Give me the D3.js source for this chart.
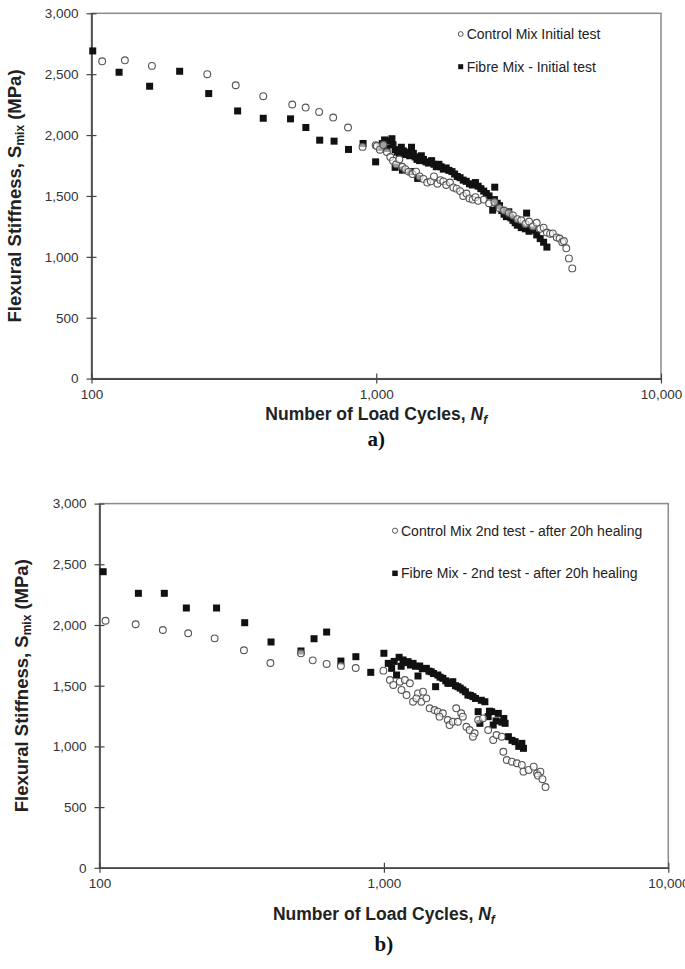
<!DOCTYPE html>
<html><head><meta charset="utf-8">
<script src="https://cdn.jsdelivr.net/npm/d3@7"></script>
<style>body{margin:0;background:#fff}</style>
</head><body>
<svg id="c" width="685" height="969"></svg>
<script>
// ---------- data ----------
const xTicks = [100, 1000, 10000];
const yTicks = [0, 500, 1000, 1500, 2000, 2500, 3000];
const panelLabels = ["a)", "b)"];
const seriesNamesA = ["Control Mix Initial test", "Fibre Mix - Initial test"];
const seriesNamesB = ["Control Mix 2nd test - after 20h healing", "Fibre Mix - 2nd test - after 20h healing"];

// [N cycles, stiffness MPa]
const controlInitial = [
 [109,2606],[131,2614],[163,2568],[255,2500],[321,2409],[401,2319],[507,2251],[565,2226],[630,2190],[706,2144],[796,2062],[895,1903],[995,1917],
 [1005,1910],[1030,1880],[1060,1920],[1090,1860],[1120,1820],[1145,1790],[1175,1760],[1205,1800],[1235,1740],[1265,1720],[1300,1700],
 [1340,1680],[1380,1700],[1420,1660],[1465,1640],[1510,1610],[1555,1620],[1595,1660],[1640,1600],[1680,1630],[1720,1620],[1760,1590],
 [1815,1610],[1865,1570],[1915,1560],[1970,1540],[2020,1500],[2075,1520],[2125,1480],[2180,1470],[2230,1490],[2280,1460],[2385,1470],
 [2490,1440],[2600,1450],[2710,1400],[2810,1380],[2920,1360],[3020,1340],[3130,1310],[3230,1300],[3340,1270],[3440,1290],[3550,1250],
 [3660,1280],[3765,1230],[3870,1240],[3975,1200],[4080,1190],[4170,1192],[4300,1160],[4405,1150],[4500,1120],[4560,1130],[4650,1070],
 [4750,987],[4880,905]
];
const fibreInitial = [
 [101,2691],[125,2516],[160,2401],[204,2524],[258,2341],[326,2198],[401,2138],[500,2133],[566,2062],[633,1958],[711,1950],[799,1882],[899,1931],[995,1780],
 [1030,1900],[1050,1930],[1070,1960],[1090,1890],[1110,1950],[1135,1970],[1145,1920],[1165,1880],[1185,1860],[1205,1850],[1225,1900],
 [1245,1870],[1265,1840],[1290,1860],[1310,1830],[1330,1900],[1350,1850],[1370,1820],[1390,1800],[1420,1790],[1440,1830],[1465,1800],
 [1495,1780],[1525,1770],[1565,1790],[1595,1760],[1625,1740],[1660,1760],[1690,1740],[1720,1720],[1760,1730],[1800,1710],[1845,1700],
 [1885,1680],[1925,1660],[1970,1650],[2020,1630],[2070,1620],[2125,1600],[2175,1590],[2230,1610],[2280,1580],[2330,1560],[2385,1540],
 [2435,1520],[2490,1500],[2607,1572],[2600,1470],[2564,1383],[2660,1440],[2710,1420],[2760,1380],[2810,1350],[2865,1330],[2920,1370],
 [2970,1320],[3020,1300],[3075,1280],[3130,1260],[3230,1240],[3373,1359],[3340,1230],[3440,1210],[3550,1220],[3660,1180],[3765,1150],
 [3870,1120],[3975,1080],[1236,1712],[1398,1644],[1165,1735],[1320,1700]
];
const control2nd = [
 [105,2035],[134,2006],[167,1959],[205,1932],[254,1890],[322,1792],[399,1687],[511,1767],[562,1709],[629,1679],[706,1662],[796,1646],[996,1624],
 [1050,1547],[1079,1506],[1138,1533],[1185,1547],[1234,1520],[1153,1465],[1201,1423],[1266,1368],[1318,1437],[1373,1451],[1301,1396],
 [1355,1368],[1410,1396],[1448,1314],[1507,1300],[1548,1286],[1612,1273],[1569,1245],[1678,1217],[1702,1176],[1747,1203],[1820,1203],
 [1796,1314],[1870,1273],[1895,1245],[1950,1162],[2002,1135],[2085,1108],[2056,1080],[2145,1217],[2232,1231],[2326,1135],[2423,1053],
 [2490,1094],[2596,1080],[2630,956],[2705,888],[2818,874],[2936,861],[3055,847],[3095,792],[3228,806],[3363,833],[3455,778],[3550,792],
 [3480,760],[3610,730],[3700,665]
];
const fibre2nd = [
 [103,2439],[137,2261],[169,2261],[202,2140],[258,2140],[324,2019],[401,1860],[511,1786],[568,1887],[629,1942],[706,1703],[797,1739],[899,1610],[1000,1767],
 [1036,1684],[1065,1643],[1108,1588],[1131,1734],[1168,1712],[1216,1698],[1266,1684],[1318,1580],[1336,1662],[1410,1643],[1467,1615],
 [1520,1492],[1548,1588],[1612,1561],[1678,1520],[1747,1533],[1820,1492],[1895,1465],[1974,1423],[2056,1410],[2145,1286],[2175,1190],
 [2265,1368],[2326,1245],[2392,1286],[2423,1176],[2525,1272],[2668,1190],[2740,1080],[2893,1039],[3055,1025],[3095,984],
 [1087,1700],[1150,1660],[1190,1690],[1240,1670],[1292,1660],[1365,1640],[1440,1620],[1495,1600],[1575,1570],[1650,1540],[1710,1520],
 [1785,1500],[1855,1480],[1935,1450],[2015,1420],[2100,1395],[2200,1380],[2350,1290],[2480,1210],[2600,1200],[2640,1230],[2820,1050],[2980,1000]
];

// ---------- layout ----------
const panels = [
  {l:91.5, r:661, t:13.3, b:378.6, yTitleX:15, label:panelLabels[0], names:seriesNamesA,
   control:controlInitial, fibre:fibreInitial, legX:460.7, legY:34, legDy:32.7, legR:2.4, legS:5,
   xTitleDy:41, labelDy:67},
  {l:99.5, r:668.3, t:503.6, b:867.8, yTitleX:22, label:panelLabels[1], names:seriesNamesB,
   control:control2nd, fibre:fibre2nd, legX:395, legY:530.7, legDy:42.6, legR:2.6, legS:5.5,
   xTitleDy:52, labelDy:83}
];

const svg = d3.select("#c");
const tickFont = "'Liberation Sans Narrow','Arial Narrow','Liberation Sans',Arial,sans-serif";
const titleFont = "'Liberation Sans',Arial,sans-serif";

panels.forEach(p => {
  const x = d3.scaleLog().domain([100, 10000]).range([p.l, p.r]);
  const y = d3.scaleLinear().domain([0, 3000]).range([p.b, p.t]);
  const g = svg.append("g");

  // frame
  g.append("rect").attr("x", p.l).attr("y", p.t).attr("width", p.r - p.l).attr("height", p.b - p.t)
    .attr("fill", "none").attr("stroke", "#8a8a8a").attr("stroke-width", 1.5);

  // y axis
  const ya = g.append("g").attr("transform", `translate(${p.l},0)`)
    .call(d3.axisLeft(y).tickValues(yTicks).tickFormat(d3.format(",")).tickSizeInner(5).tickSizeOuter(0).tickPadding(8));
  ya.select(".domain").attr("stroke", "#444").attr("stroke-width", 1.6);
  ya.selectAll(".tick line").attr("x1", 5).attr("x2", -5).attr("stroke", "#444").attr("stroke-width", 1.2);
  ya.selectAll(".tick text").attr("font-family", tickFont).attr("font-size", 13.5).attr("fill", "#333");

  // x axis
  const xa = g.append("g").attr("transform", `translate(0,${p.b})`)
    .call(d3.axisBottom(x).tickValues(xTicks).tickFormat(d3.format(",")).tickSizeInner(5).tickSizeOuter(0).tickPadding(6));
  xa.select(".domain").attr("stroke", "#444").attr("stroke-width", 1.6);
  xa.selectAll(".tick line").attr("y1", -5).attr("y2", 5).attr("stroke", "#444").attr("stroke-width", 1.2);
  xa.selectAll(".tick text").attr("font-family", tickFont).attr("font-size", 13.5).attr("fill", "#333");

  // y title
  const yt = g.append("text").attr("transform", `translate(${p.yTitleX},${(p.t + p.b) / 2}) rotate(-90)`)
    .attr("text-anchor", "middle").attr("dy", "0.35em")
    .attr("font-family", titleFont).attr("font-weight", "bold").attr("font-size", 18.5).attr("fill", "#222");
  yt.append("tspan").text("Flexural Stiffness, S");
  yt.append("tspan").text("mix").attr("font-size", 12).attr("dy", 3);
  yt.append("tspan").text(" (MPa)").attr("dy", -3);

  // x title
  const xt = g.append("text").attr("x", (p.l + p.r) / 2).attr("y", p.b + p.xTitleDy)
    .attr("text-anchor", "middle")
    .attr("font-family", tickFont).attr("font-weight", "bold").attr("font-size", 17.5).attr("fill", "#222");
  xt.append("tspan").text("Number of Load Cycles, ");
  xt.append("tspan").text("N").attr("font-style", "italic");
  xt.append("tspan").text("f").attr("font-style", "italic").attr("font-size", 12).attr("dy", 4);

  // panel label
  g.append("text").attr("x", (p.l + p.r) / 2).attr("y", p.b + p.labelDy).attr("text-anchor", "middle")
    .attr("font-family", "'Liberation Serif','Times New Roman',serif").attr("font-weight", "bold")
    .attr("font-size", 21).attr("fill", "#111").text(p.label);

  // fibre squares
  const s = 7;
  g.append("g").selectAll("rect").data(p.fibre).join("rect")
    .attr("x", d => x(d[0]) - s / 2).attr("y", d => y(d[1]) - s / 2)
    .attr("width", s).attr("height", s).attr("fill", "#111");
  // control circles
  g.append("g").selectAll("circle").data(p.control).join("circle")
    .attr("cx", d => x(d[0])).attr("cy", d => y(d[1])).attr("r", 3.4)
    .attr("fill", "#fff").attr("fill-opacity", 0.6).attr("stroke", "#555").attr("stroke-width", 1.1);

  // legend
  const lg = g.append("g");
  lg.append("circle").attr("cx", p.legX).attr("cy", p.legY).attr("r", p.legR)
    .attr("fill", "#fff").attr("stroke", "#555").attr("stroke-width", 1);
  lg.append("rect").attr("x", p.legX - p.legS / 2).attr("y", p.legY + p.legDy - p.legS / 2)
    .attr("width", p.legS).attr("height", p.legS).attr("fill", "#111");
  p.names.forEach((n, i) => {
    lg.append("text").attr("x", p.legX + 6).attr("y", p.legY + i * p.legDy).attr("dy", "0.35em")
      .attr("font-family", tickFont).attr("font-size", 14).attr("fill", "#222").text(n);
  });
});
</script>
</body></html>
